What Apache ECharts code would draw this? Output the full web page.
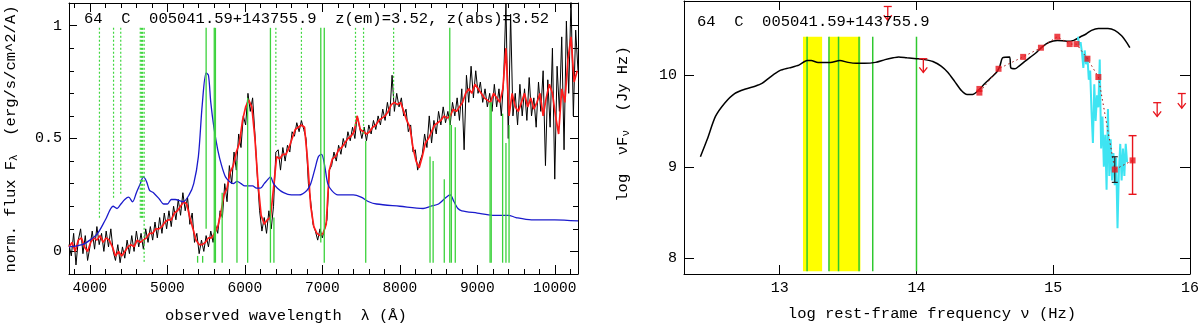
<!DOCTYPE html>
<html>
<head>
<meta charset="utf-8">
<title>64 C 005041.59+143755.9</title>
<script src="https://cdn.jsdelivr.net/npm/echarts@6.0.0/dist/echarts.min.js"></script>
<style>
html,body{margin:0;padding:0;background:#fff}
#chart{width:1200px;height:326px}
</style>
</head>
<body>
<div id="chart"></div>
<script>
// ---------- left panel: observed spectrum ----------
var obsStart = 3730, obsStep = 30;   // black, raw spectrum
var fluxObs = [
  0.03,-0.02,0.08,-0.06,0.05,0.10,-0.01,0.07,-0.04,0.02,
  0.09,0.01,0.11,0.03,0.08,0.0,0.09,0.02,0.1,0.0,
  -0.04,0.03,-0.05,0.02,-0.03,0.05,-0.01,0.07,0.0,0.09,
  0.02,0.08,0.01,0.1,0.04,0.11,0.05,0.13,0.06,0.15,
  0.08,0.17,0.1,0.18,0.11,0.2,0.14,0.23,0.16,0.26,
  0.18,0.24,0.12,0.17,0.04,0.08,-0.01,0.05,0.0,0.07,
  0.02,0.09,0.04,0.12,0.08,0.18,0.15,0.3,0.22,0.38,
  0.3,0.44,0.36,0.52,0.46,0.6,0.56,0.7,0.62,0.68,
  0.52,0.34,0.18,0.09,0.15,0.08,0.18,0.1,0.2,0.44,
  0.45,0.36,0.46,0.4,0.47,0.44,0.53,0.51,0.57,0.53,
  0.58,0.54,0.5,0.3,0.22,0.12,0.09,0.05,0.1,0.06,
  0.1,0.14,0.36,0.38,0.44,0.4,0.47,0.43,0.5,0.46,
  0.53,0.49,0.55,0.5,0.6,0.55,0.5,0.55,0.49,0.56,
  0.52,0.58,0.54,0.6,0.56,0.63,0.58,0.66,0.6,0.78,
  0.62,0.7,0.64,0.68,0.6,0.63,0.53,0.56,0.44,0.45,
  0.36,0.4,0.43,0.52,0.46,0.6,0.48,0.58,0.52,0.62,
  0.56,0.64,0.57,0.62,0.56,0.66,0.6,0.68,0.58,0.72,
  0.45,0.78,0.66,0.82,0.68,0.8,0.7,0.75,0.66,0.72,
  0.64,0.7,0.62,0.74,0.64,0.72,0.6,0.76,1.1,0.5,
  1.05,0.6,0.7,0.56,0.74,0.6,0.72,0.58,0.77,0.6,
  0.68,0.55,0.75,0.62,0.8,0.38,0.76,0.55,0.9,0.32,
  0.82,0.62,0.95,0.45,1.02,0.7,1.12,0.6,0.98,0.8
];
var smStart = 3730, smStep = 40;     // red, smoothed spectrum
var fluxSmooth = [
  0.02,0.04,0.0,0.05,0.06,0.02,0.0,0.04,0.06,0.05,
  0.07,0.04,0.06,0.05,0.02,-0.02,0.0,-0.02,0.0,0.02,
  0.03,0.02,0.05,0.04,0.05,0.06,0.08,0.08,0.1,0.1,
  0.11,0.13,0.14,0.14,0.17,0.18,0.2,0.22,0.21,0.15,
  0.1,0.05,0.03,0.03,0.04,0.06,0.06,0.08,0.11,0.17,
  0.25,0.28,0.35,0.38,0.44,0.48,0.58,0.64,0.67,0.64,
  0.5,0.3,0.16,0.12,0.14,0.15,0.28,0.42,0.41,0.43,
  0.43,0.46,0.5,0.54,0.55,0.56,0.55,0.4,0.2,0.11,
  0.08,0.07,0.08,0.12,0.36,0.41,0.42,0.45,0.46,0.48,
  0.5,0.51,0.53,0.6,0.54,0.53,0.52,0.53,0.55,0.56,
  0.58,0.59,0.6,0.62,0.65,0.66,0.65,0.66,0.62,0.58,
  0.55,0.46,0.4,0.37,0.42,0.48,0.5,0.53,0.56,0.57,
  0.58,0.6,0.59,0.6,0.63,0.62,0.64,0.66,0.7,0.72,
  0.7,0.74,0.72,0.7,0.68,0.67,0.66,0.7,0.68,0.66,
  0.72,0.9,0.6,0.7,0.64,0.62,0.66,0.7,0.64,0.68,
  0.63,0.66,0.7,0.6,0.68,0.74,0.7,0.6,0.52,0.72,
  0.66,0.85,0.95,0.75,0.8
];
// blue, composite template
var tplLam = [3730,3900,4000,4100,4200,4300,4350,4400,4450,4500,4550,4600,4650,4690,4730,4770,4820,4900,4950,5000,5050,5100,5200,5280,5340,5400,5450,5500,5530,5560,5600,5650,5700,5750,5800,5850,5900,5950,6000,6050,6100,6150,6200,6250,6300,6330,6370,6420,6500,6600,6700,6800,6850,6900,6950,6990,7030,7070,7120,7200,7300,7400,7500,7600,7700,8000,8300,8400,8500,8600,8650,8700,8750,8800,9000,9200,9400,9500,9700,10000,10300];
var tplVal = [0.02,0.03,0.05,0.08,0.14,0.2,0.19,0.21,0.23,0.24,0.22,0.26,0.3,0.33,0.31,0.27,0.26,0.23,0.21,0.21,0.23,0.23,0.22,0.25,0.3,0.42,0.65,0.79,0.78,0.66,0.55,0.45,0.38,0.33,0.31,0.3,0.31,0.3,0.29,0.29,0.29,0.28,0.28,0.3,0.32,0.33,0.3,0.28,0.26,0.25,0.25,0.27,0.3,0.36,0.42,0.43,0.38,0.3,0.27,0.25,0.25,0.25,0.24,0.22,0.21,0.2,0.19,0.2,0.21,0.24,0.25,0.22,0.19,0.18,0.17,0.16,0.16,0.15,0.14,0.14,0.135];
// line markers: [wavelength, from, to, dotted]
var lineMarks = [
  [4123,0.99,0.14,1],[4305,0.99,0.23,1],[4398,0.99,0.25,1],[4650,0.99,0.14,1],
  [4665,0.99,0.14,1],[4680,0.99,0.14,1],[4700,0.99,-0.05,1],[6400,0.99,0.47,1],
  [6730,0.99,0.58,1],[7428,0.99,0.55,1],[7532,0.99,0.52,1],[7920,0.99,0.68,1],
  [5500,0.99,0.1,0],[5605,0.99,-0.05,0],[5620,0.99,-0.05,0],[5390,-0.02,-0.05,0],
  [5455,-0.02,-0.05,0],[5707,0.26,-0.05,0],[5898,0.4,-0.05,0],[6036,0.68,-0.05,0],
  [6330,0.99,-0.05,0],[6375,0.15,-0.05,0],[6980,0.99,0.04,0],[7025,0.99,-0.05,0],
  [7560,0.49,-0.05,0],[8390,0.42,-0.05,0],[8430,0.4,-0.05,0],[8574,0.32,-0.05,0],
  [8645,0.99,-0.05,0],[8665,0.56,-0.05,0],[8716,0.55,-0.05,0],[9165,0.66,-0.05,0],
  [9180,0.66,-0.05,0],[9327,0.61,-0.05,0],[9370,0.48,-0.05,0],[9410,0.56,-0.05,0]
];
var lamTicks = [4000,5000,6000,7000,8000,9000,10000];
var lamMinor = [3800,4200,4400,4600,4800,5200,5400,5600,5800,6200,6400,6600,6800,7200,7400,7600,7800,8200,8400,8600,8800,9200,9400,9600,9800,10200];
var fluxTicks = [0,0.5,1];
var fluxMinor = [0.1,0.2,0.3,0.4,0.6,0.7,0.8,0.9];

// ---------- right panel: SED ----------
var sedNu = [12.42,12.47,12.53,12.6,12.67,12.75,12.82,12.87,12.93,13.0,13.07,13.14,13.2,13.23,13.28,13.33,13.37,13.44,13.5,13.56,13.62,13.7,13.77,13.83,13.87,13.93,14.0,14.06,14.12,14.18,14.23,14.28,14.33,14.37,14.41,14.45,14.5,14.55,14.59,14.61,14.63,14.68,14.69,14.72,14.75,14.8,14.87,14.92,14.97,15.03,15.1,15.15,15.2,15.24,15.28,15.33,15.4,15.45,15.5,15.54,15.56];
var sedVal = [9.11,9.3,9.55,9.7,9.8,9.85,9.88,9.91,9.98,10.05,10.08,10.11,10.16,10.16,10.14,10.14,10.14,10.16,10.14,10.13,10.13,10.14,10.17,10.19,10.2,10.19,10.18,10.17,10.15,10.1,10.03,9.93,9.83,9.79,9.79,9.83,9.91,9.98,10.04,10.1,10.19,10.2,10.08,10.07,10.1,10.16,10.24,10.31,10.36,10.38,10.37,10.38,10.42,10.45,10.49,10.51,10.51,10.49,10.43,10.35,10.3];
var uvNu = [15.18,15.19,15.2,15.21,15.22,15.23,15.24,15.25,15.26,15.27,15.28,15.29,15.3,15.31,15.32,15.33,15.34,15.35,15.36,15.37,15.38,15.39,15.4,15.41,15.42,15.43,15.44,15.45,15.46,15.47,15.48,15.49,15.5,15.51,15.52,15.53,15.54];
var uvVal = [10.42,10.33,10.36,10.25,10.08,10.27,10.12,10.2,9.95,10.05,9.6,9.26,9.9,9.5,9.78,9.65,10.17,9.2,9.55,9.0,9.35,8.75,9.63,8.9,9.3,8.85,9.15,8.8,9.1,8.33,8.95,9.25,8.85,9.2,8.9,9.25,9.05];
var photNu = [14.46,14.46,14.6,14.78,14.91,15.03,15.12,15.17,15.25,15.33,15.45,15.58];
var photVal = [9.85,9.81,10.07,10.2,10.3,10.42,10.34,10.34,10.18,9.98,8.97,9.07];
// error bars: [nu, low, high, red?]
var photErr = [[15.45,8.83,9.11,0],[15.58,8.70,9.34,1]];
// upper limits: [nu, bar, arrow tip]
var upperLim = [[13.79,10.75,10.6],[14.05,10.18,10.03],[15.76,9.70,9.55],[15.94,9.80,9.64]];
// spitzer bands [from, to] and marker lines
var bands = [[13.17,13.31],[13.36,13.59]];
var bandLines = [13.2,13.36,13.43,13.58,13.68,14.0];
var bandLow = 7.86, bandHigh = 10.42;
var nuTicks = [13,14,15,16];
var sedTicks = [8,9,10];

var FONT = 'Liberation Mono';

function pairs(xs, ys) { return xs.map(function (x, i) { return [x, ys[i]]; }); }
function grid(start, step, ys) { return ys.map(function (y, i) { return [start + i * step, y]; }); }

function axis(gi, pos, min, max, ticks, len, label, size) {
  return {
    type: 'value', gridIndex: gi, position: pos, min: min, max: max,
    axisLine: { show: len > 6, onZero: false, lineStyle: { color: '#000', width: 1 } },
    axisTick: { show: true, inside: true, length: len, customValues: ticks, lineStyle: { color: '#000', width: 1 } },
    axisLabel: label ? { show: true, customValues: ticks, color: '#000', fontFamily: FONT, fontSize: size, margin: 7,
      formatter: function (v) { return String(v); } } : { show: false },
    splitLine: { show: false }
  };
}

function segItem(params, api) {
  var a = api.coord([api.value(0), api.value(1)]);
  var b = api.coord([api.value(0), api.value(2)]);
  var dotted = api.value(3) === 1;
  return { type: 'line', shape: { x1: a[0], y1: a[1], x2: b[0], y2: b[1] },
    style: { stroke: dotted ? '#3fd63f' : '#3cd23c', lineWidth: dotted ? 1.2 : 1.3, lineDash: dotted ? [2, 2] : null } };
}

function bandItem(params, api) {
  var a = api.coord([api.value(0), bandHigh]);
  var b = api.coord([api.value(1), bandLow]);
  return { type: 'rect', shape: { x: a[0], y: a[1], width: b[0] - a[0], height: b[1] - a[1] }, style: { fill: '#ffff00' } };
}

function vlineItem(params, api) {
  var a = api.coord([api.value(0), bandHigh]);
  var b = api.coord([api.value(0), bandLow]);
  return { type: 'line', shape: { x1: a[0], y1: a[1], x2: b[0], y2: b[1] }, style: { stroke: '#2ec82e', lineWidth: 1.5 } };
}

function errItem(params, api) {
  var lo = api.coord([api.value(0), api.value(1)]);
  var hi = api.coord([api.value(0), api.value(2)]);
  var red = api.value(3) === 1;
  var st = { stroke: red ? '#e8141c' : '#222', lineWidth: red ? 1.4 : 1.2 };
  var w = red ? 4 : 3;
  return { type: 'group', children: [
    { type: 'line', shape: { x1: lo[0], y1: lo[1], x2: hi[0], y2: hi[1] }, style: st },
    { type: 'line', shape: { x1: lo[0] - w, y1: lo[1], x2: lo[0] + w, y2: lo[1] }, style: st },
    { type: 'line', shape: { x1: hi[0] - w, y1: hi[1], x2: hi[0] + w, y2: hi[1] }, style: st }
  ] };
}

function limItem(params, api) {
  var top = api.coord([api.value(0), api.value(1)]);
  var tip = api.coord([api.value(0), api.value(2)]);
  var st = { stroke: '#e8141c', lineWidth: 1.3, fill: null };
  return { type: 'group', children: [
    { type: 'line', shape: { x1: top[0] - 4, y1: top[1], x2: top[0] + 4, y2: top[1] }, style: st },
    { type: 'line', shape: { x1: top[0], y1: top[1], x2: tip[0], y2: tip[1] }, style: st },
    { type: 'polyline', shape: { points: [[tip[0] - 4, tip[1] - 5], [tip[0], tip[1]], [tip[0] + 4, tip[1] - 5]] }, style: st }
  ] };
}

var txt = { fontFamily: FONT, fontSize: 15.5, fill: '#000' };

var chart = echarts.init(document.getElementById('chart'), null, { renderer: 'canvas' });
chart.setOption({
  animation: false,
  backgroundColor: '#fff',
  grid: [
    { left: 69, top: 3, width: 509, height: 271, outerBoundsMode: 'none' },
    { left: 684, top: 1, width: 506, height: 273, outerBoundsMode: 'none' }
  ],
  xAxis: [
    axis(0, 'bottom', 3730, 10300, lamTicks, 9, true, 14.5),
    axis(0, 'bottom', 3730, 10300, lamMinor, 5, false),
    axis(0, 'top', 3730, 10300, lamTicks, 9, false),
    axis(0, 'top', 3730, 10300, lamMinor, 5, false),
    axis(1, 'bottom', 12.3, 16.0, nuTicks, 9, true, 15),
    axis(1, 'top', 12.3, 16.0, nuTicks, 9, false)
  ],
  yAxis: [
    axis(0, 'left', -0.1, 1.1, fluxTicks, 8, true, 15),
    axis(0, 'left', -0.1, 1.1, fluxMinor, 5, false),
    axis(0, 'right', -0.1, 1.1, fluxTicks, 8, false),
    axis(0, 'right', -0.1, 1.1, fluxMinor, 5, false),
    axis(1, 'left', 7.83, 10.81, sedTicks, 10, true, 15),
    axis(1, 'right', 7.83, 10.81, sedTicks, 10, false)
  ],
  series: [
    { type: 'line', xAxisIndex: 0, yAxisIndex: 0, data: grid(obsStart, obsStep, fluxObs),
      symbol: 'none', lineStyle: { color: '#000', width: 1 }, clip: true, z: 2 },
    { type: 'line', xAxisIndex: 0, yAxisIndex: 0, data: grid(smStart, smStep, fluxSmooth),
      symbol: 'none', lineStyle: { color: '#ff1a1a', width: 1.7 }, clip: true, z: 3 },
    { type: 'line', xAxisIndex: 0, yAxisIndex: 0, data: pairs(tplLam, tplVal), smooth: 0.3,
      symbol: 'none', lineStyle: { color: '#1a1acc', width: 1.3 }, clip: true, z: 4 },
    { type: 'custom', xAxisIndex: 0, yAxisIndex: 0, data: lineMarks, renderItem: segItem, clip: true, z: 5 },

    { type: 'custom', xAxisIndex: 4, yAxisIndex: 4, data: bands, renderItem: bandItem, clip: true, z: 1 },
    { type: 'custom', xAxisIndex: 4, yAxisIndex: 4, data: bandLines.map(function (v) { return [v]; }), renderItem: vlineItem, clip: true, z: 2 },
    { type: 'line', xAxisIndex: 4, yAxisIndex: 4, data: pairs(sedNu, sedVal), smooth: 0.25,
      symbol: 'none', lineStyle: { color: '#000', width: 1.5 }, clip: true, z: 3 },
    { type: 'line', xAxisIndex: 4, yAxisIndex: 4, data: pairs(uvNu, uvVal),
      symbol: 'none', lineStyle: { color: '#3ee4f2', width: 2 }, clip: true, z: 4 },
    { type: 'line', xAxisIndex: 4, yAxisIndex: 4, data: pairs(photNu, photVal),
      symbol: 'none', lineStyle: { color: '#a01010', width: 1, type: [1.5, 3] }, clip: true, z: 5 },
    { type: 'custom', xAxisIndex: 4, yAxisIndex: 4, data: photErr, renderItem: errItem, clip: true, z: 6 },
    { type: 'scatter', xAxisIndex: 4, yAxisIndex: 4, data: pairs(photNu, photVal),
      symbol: 'rect', symbolSize: 6, itemStyle: { color: '#e8141c' }, z: 7 },
    { type: 'custom', xAxisIndex: 4, yAxisIndex: 4, data: upperLim, renderItem: limItem, clip: false, z: 8 }
  ],
  graphic: [
    { type: 'text', x: 84, y: 19, style: Object.assign({ text: '64  C  005041.59+143755.9  z(em)=3.52, z(abs)=3.52', align: 'left', verticalAlign: 'middle' }, txt), z: 100 },
    { type: 'text', x: 697, y: 22, style: Object.assign({ text: '64  C  005041.59+143755.9', align: 'left', verticalAlign: 'middle' }, txt), z: 100 },
    { type: 'text', x: 286, y: 316, style: Object.assign({ text: 'observed wavelength  λ (Å)', align: 'center', verticalAlign: 'middle' }, txt) },
    { type: 'text', x: 932, y: 314, style: Object.assign({ text: 'log rest-frame frequency ν (Hz)', align: 'center', verticalAlign: 'middle' }, txt) },
    { type: 'text', x: 11, y: 139, rotation: Math.PI / 2,
      style: { text: '{a|norm. flux F}{b|λ}{a|  (erg/s/cm^2/A)}', align: 'center', verticalAlign: 'middle',
        rich: { a: { fontFamily: FONT, fontSize: 15.5, lineHeight: 18, fill: '#000' },
                b: { fontFamily: FONT, fontSize: 11, lineHeight: 12, verticalAlign: 'bottom', fill: '#000' } } } },
    { type: 'text', x: 623, y: 124, rotation: Math.PI / 2,
      style: { text: '{a|log  νF}{b|ν}{a|  (Jy Hz)}', align: 'center', verticalAlign: 'middle',
        rich: { a: { fontFamily: FONT, fontSize: 15.5, lineHeight: 18, fill: '#000' },
                b: { fontFamily: FONT, fontSize: 11, lineHeight: 12, verticalAlign: 'bottom', fill: '#000' } } } }
  ]
});
</script>
</body>
</html>
